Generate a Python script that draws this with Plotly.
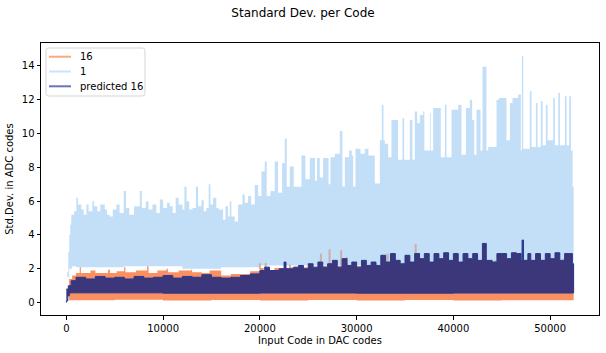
import plotly.graph_objects as go

# ---------------- data ----------------
# Series "1": step envelope (code, upper std.dev.) and lower envelope
blue_x = [0, 100, 200, 300, 400, 500, 520, 800, 1035, 1200, 1550, 1800, 2070, 2300, 2690, 2860,
          3200, 3500, 3970, 4200, 4480, 4800, 5180, 5500, 5930, 6170, 6500, 7000, 7590, 7800,
          8210, 8490, 8900, 9300, 9660, 10000, 10400, 10700, 11000, 11300, 11600, 12000, 12200,
          12420, 12700, 13040, 13390, 13610, 13955, 14200, 14470, 14710, 14890, 15160, 15500,
          15750, 16200, 16440, 16710, 16890, 17060, 17400, 17750, 18200, 18440, 18780, 19100,
          19470, 19820, 20160, 20500, 20710, 21100, 21540, 21880, 22300, 22570, 22780, 23090,
          23500, 24300, 24710, 25160, 25700, 25900, 26190, 26540, 27100, 27300, 27740, 28260,
          28530, 28780, 29220, 29500, 29640, 29880, 30400, 30840, 31220, 31880, 32400, 32600,
          32775, 32910, 33260, 33600, 34290, 34740, 34910, 35500, 35770, 36010, 36260, 36530,
          36880, 37000, 37570, 37650, 37910, 38700, 39120, 39290, 39810, 40500, 40840, 41290,
          41700, 41940, 42150, 42390, 42800, 43010, 43420, 43600, 44460, 44730, 45490, 45840,
          46110, 46700, 46975, 47080, 47220, 47900, 48080, 48530, 48700, 49040, 49220, 49560,
          49730, 50320, 50490, 50840, 51010, 51520, 51700, 51970, 52150, 52320, 52428]
blue_top = [0.3, 1.8, 3.0, 4.0, 4.6, 5.0, 5.2, 5.4, 6.2, 5.8, 5.5, 5.2, 5.8, 5.4, 6.0, 5.7,
            5.4, 5.8, 5.5, 5.2, 5.1, 5.5, 5.8, 5.3, 6.6, 5.6, 5.2, 5.7, 6.6, 5.6,
            6.0, 5.5, 5.8, 5.3, 6.1, 5.6, 5.9, 5.7, 5.3, 6.2, 5.8, 5.5, 6.85,
            6.0, 5.5, 5.6, 6.85, 5.7, 6.05, 5.4, 5.6, 7.0, 5.8, 6.2, 5.6,
            5.5, 4.9, 5.7, 5.1, 6.0, 5.1, 4.8, 5.8, 6.4, 5.9, 6.3, 5.8,
            6.95, 6.3, 7.75, 8.35, 6.3, 6.6, 8.35, 6.5, 8.25, 9.7, 6.85, 8.05,
            6.85, 8.7, 7.3, 8.55, 7.2, 8.55, 7.4, 8.55, 7.0, 8.6, 8.8, 10.15,
            6.86, 8.6, 9.0, 8.7, 6.86, 9.1, 8.8, 9.1, 8.7, 7.05, 9.6, 11.7,
            9.6, 9.4, 8.6, 10.8, 8.45, 10.9, 8.45, 10.8, 8.45, 11.3, 10.6, 11.1,
            11.3, 9.0, 11.2, 9.0, 11.5, 8.6, 11.7, 8.6, 11.4, 11.7, 8.74, 11.5,
            12.0, 10.8, 8.74, 11.4, 9.0, 13.95, 9.0, 9.2, 12.0, 12.1, 9.6, 11.8,
            12.1, 12.3, 9.0, 14.6, 9.1, 12.5, 9.2, 11.8, 9.2, 11.9, 9.3, 11.7,
            9.6, 12.1, 9.3, 12.4, 9.3, 12.2, 9.3, 12.2, 9.0, 6.85, 6.5]
blue_lo_x = [0, 100, 300, 600, 1000, 6000, 12000, 16000, 20000, 30000, 40000, 52428]
blue_lo = [0.1, 0.6, 1.5, 2.0, 2.15, 2.1, 2.15, 2.0, 2.1, 2.2, 2.2, 2.2]

# Series "16"
orange_x = [280, 600, 1000, 1380, 1500, 2500, 3000, 4300, 4500, 5200, 5970, 6100, 7200, 8350,
            8500, 9400, 10350, 10500, 11600, 12900, 13000, 14000, 14800, 16000, 17000, 18000,
            19000, 20000, 20400, 21500, 23000, 24500, 26000, 30000, 35000, 40000, 45000,
            50000, 52428]
orange_top = [1.4, 1.6, 1.75, 2.27, 1.75, 1.9, 1.75, 1.95, 1.75, 1.85, 2.1, 1.8, 1.9, 2.3,
              1.75, 1.9, 2.0, 1.8, 1.9, 1.95, 1.8, 1.75, 1.9, 1.6, 1.7, 1.7,
              1.85, 2.05, 1.9, 2.05, 2.1, 2.1, 2.15, 2.15, 2.15, 2.15, 2.15,
              2.15, 2.15]
orange_lo_x = [280, 5000, 10000, 15000, 20000, 25000, 30000, 35000, 40000, 45000, 50000, 52428]
orange_lo = [0.18, 0.14, 0.17, 0.13, 0.16, 0.13, 0.15, 0.13, 0.15, 0.12, 0.14, 0.14]
# "16" peaks that rise above the lower edge of series "1"
orange_peak_x = [20000, 20600, 23100, 26300, 27200, 28400, 29000, 33200, 36100, 40300, 42300,
                 44000, 44300, 46000, 47600, 49200, 49800, 51400]
orange_peak_y = [2.33, 2.35, 2.25, 2.9, 3.16, 3.1, 2.7, 2.9, 3.47, 2.95, 2.55, 2.5, 2.5,
                 2.45, 2.55, 2.55, 2.5, 2.6]

# Series "predicted 16"
navy_x = [0, 200, 500, 1000, 2000, 3000, 4000, 5000, 6000, 7000, 8000, 9000, 10000, 11000,
          12000, 13000, 14000, 15000, 16000, 17000, 18000, 19000, 20000, 20500, 21000, 22000,
          22500, 22700, 23500, 24000, 24500, 25000, 25500, 26000, 26500, 27000, 27500, 28000,
          28500, 29000, 29500, 30000, 30500, 31000, 31500, 32000, 32500, 33000, 33500, 34000,
          34500, 35000, 35500, 36000, 36500, 37000, 37500, 38000, 38500, 39000, 39500, 40000,
          40500, 41000, 41500, 42000, 42500, 43000, 43400, 44000, 44500, 45000, 45500, 46000,
          46500, 47000, 47100, 47250, 47700, 48000, 48500, 49000, 49500, 50000, 50500, 51000,
          51500, 52000, 52300, 52428]
navy_top = [0.8, 1.0, 1.3, 1.5, 1.4, 1.55, 1.45, 1.5, 1.4, 1.55, 1.45, 1.5, 1.6, 1.45,
            1.55, 1.5, 1.65, 1.5, 1.45, 1.5, 1.6, 1.7, 1.9, 2.1, 1.9, 2.0,
            2.4, 2.0, 2.1, 2.2, 2.0, 2.3, 2.1, 2.4, 2.1, 2.3, 2.5, 2.1,
            2.6, 2.2, 2.4, 2.1, 2.5, 2.2, 2.4, 2.2, 2.8, 2.4, 2.9, 2.5,
            2.3, 2.8, 2.4, 2.9, 2.6, 2.9, 2.4, 2.9, 2.6, 2.95, 2.5, 2.9,
            2.4, 2.9, 2.6, 2.9, 2.5, 3.5, 2.5, 2.4, 2.9, 2.9, 2.6, 2.95,
            2.9, 2.5, 3.7, 2.5, 2.9, 2.5, 2.9, 2.5, 2.9, 2.6, 2.95, 2.5,
            2.9, 2.9, 2.3, 2.3]
navy_lo_x = [0, 150, 300, 500, 10000, 20000, 30000, 40000, 52428]
navy_lo = [0.0, 0.1, 0.4, 0.57, 0.58, 0.56, 0.57, 0.56, 0.57]

series_names = ["16", "1", "predicted 16"]
x_ticks = [0, 10000, 20000, 30000, 40000, 50000]
y_ticks = [0, 2, 4, 6, 8, 10, 12, 14]

# ---------------- styles ----------------
C_BLUE = "rgb(195,223,248)"
C_ORANGE = "rgb(250,144,98)"
C_GHOST = "rgb(203,173,170)"
C_NAVY = "rgb(60,55,122)"
C_NAVY_EDGE = "rgb(42,56,140)"
LEG_COLORS = ["rgb(250,168,130)", "rgb(203,226,248)", "rgb(106,116,176)"]
FONT = "DejaVu Sans"

# plot area in pixels (figure 606 x 353)
L, R, T, B = 41, 599, 43, 315


def px(xp):
    return (xp - L) / (R - L)


def py(yp):
    return (B - yp) / (B - T)


def band(xt, yt, xl, yl, fill, edge=None, ew=0):
    return go.Scatter(
        x=list(xt) + list(xl)[::-1],
        y=list(yt) + list(yl)[::-1],
        mode="lines", fill="toself", fillcolor=fill,
        line=dict(shape="hv", width=ew, color=edge or fill),
        showlegend=False, hoverinfo="skip")


fig = go.Figure()
fig.add_trace(band(orange_x, orange_top, orange_lo_x, orange_lo, C_ORANGE))
fig.add_trace(band(blue_x, blue_top, blue_lo_x, blue_lo, C_BLUE))

gx, gy = [], []
for xv, yv in zip(orange_peak_x, orange_peak_y):
    gx += [xv, xv, None]
    gy += [2.0, yv, None]
fig.add_trace(go.Scatter(x=gx, y=gy, mode="lines", line=dict(color=C_GHOST, width=2),
                         showlegend=False, hoverinfo="skip"))
fig.add_trace(band(navy_x, navy_top, navy_lo_x, navy_lo, C_NAVY, C_NAVY_EDGE, 1))

# ---- matplotlib-like legend box ----
x0, x1, y0, y1 = px(46), px(145), py(48), py(96)
rx, ry = 2.5 / (R - L), 2.5 / (B - T)
path = (f"M {x0+rx},{y0} L {x1-rx},{y0} Q {x1},{y0} {x1},{y0-ry} "
        f"L {x1},{y1+ry} Q {x1},{y1} {x1-rx},{y1} L {x0+rx},{y1} Q {x0},{y1} {x0},{y1+ry} "
        f"L {x0},{y0-ry} Q {x0},{y0} {x0+rx},{y0} Z")
shapes = [dict(type="path", path=path, xref="paper", yref="paper",
               line=dict(color="#d5d5d5", width=1), fillcolor="rgba(255,255,255,0.85)",
               layer="above")]
annotations = []
for i, (name, col) in enumerate(zip(series_names, LEG_COLORS)):
    yc = py(56.7 + 14.8 * i)
    shapes.append(dict(type="line", xref="paper", yref="paper", x0=px(49), x1=px(71),
                       y0=yc, y1=yc, line=dict(color=col, width=2), layer="above"))
    annotations.append(dict(text=name, xref="paper", yref="paper", x=px(78), y=yc,
                            xanchor="left", yanchor="middle", showarrow=False,
                            font=dict(family=FONT, size=10, color="black")))

axis_common = dict(showline=True, mirror=True, linecolor="black", linewidth=1,
                   ticks="outside", ticklen=3.5, tickcolor="black", tickwidth=1,
                   showgrid=False, zeroline=False,
                   tickfont=dict(family=FONT, size=10, color="black"))

fig.update_layout(
    width=606, height=353,
    margin=dict(l=L, r=606 - R, t=T, b=353 - B),
    paper_bgcolor="white", plot_bgcolor="white",
    title=dict(text="Standard Dev. per Code", x=0.5, xanchor="center",
               y=1 - 13 / 353, yanchor="middle",
               font=dict(family=FONT, size=12, color="black")),
    xaxis=dict(range=[-2621, 55050], tickvals=x_ticks,
               ticktext=[str(v) for v in x_ticks],
               title=dict(text="Input Code in DAC codes", standoff=4,
                          font=dict(family=FONT, size=10, color="black")),
               **axis_common),
    yaxis=dict(range=[-0.73, 15.35], tickvals=y_ticks,
               ticktext=[str(v) for v in y_ticks],
               title=dict(text="Std.Dev. in ADC codes", standoff=6,
                          font=dict(family=FONT, size=10, color="black")),
               **axis_common),
    shapes=shapes, annotations=annotations,
    showlegend=False,
)

fig.write_html("out.html")
